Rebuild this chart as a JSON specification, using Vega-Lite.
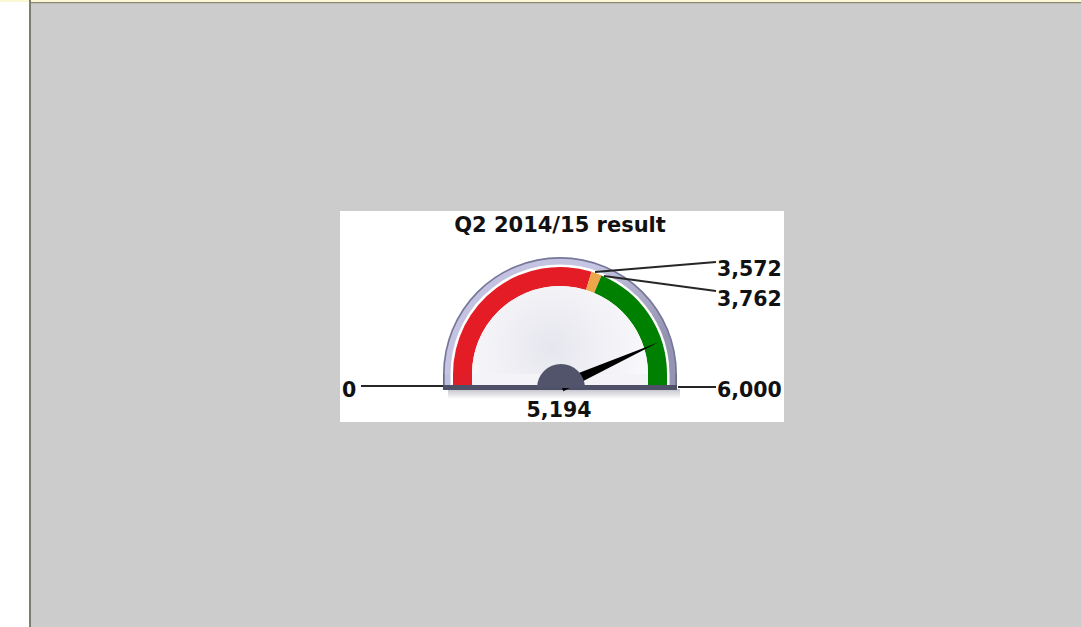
{
  "$schema": "https://vega.github.io/schema/vega-lite/v6.json",
  "width": 1081,
  "height": 627,
  "padding": 0,
  "autosize": {"type": "none"},
  "background": "#cccccc",
  "config": {"view": {"stroke": null}, "axis": {"disable": true}},
  "layer": [
    {
      "data": {"values": [{"part": "left strip"}]},
      "mark": {"type": "rect", "color": "#ffffff"},
      "encoding": {
        "x": {"datum": -560, "type": "quantitative", "scale": {"domain": [-560, 521], "nice": false, "zero": false}, "axis": null},
        "x2": {"datum": -531},
        "y": {"datum": 374, "type": "quantitative", "scale": {"domain": [-253, 374], "nice": false, "zero": false}, "axis": null},
        "y2": {"datum": -253}
      }
    },
    {
      "data": {"values": [{"part": "top strip"}]},
      "mark": {"type": "rect", "color": "#fbf8d6"},
      "encoding": {
        "x": {"datum": -560, "type": "quantitative"}, "x2": {"datum": 521},
        "y": {"datum": 374, "type": "quantitative"}, "y2": {"datum": 372}
      }
    },
    {
      "data": {"values": [{"part": "top line"}]},
      "mark": {"type": "rect", "color": "#8a8a72"},
      "encoding": {
        "x": {"datum": -531, "type": "quantitative"}, "x2": {"datum": 521},
        "y": {"datum": 372, "type": "quantitative"}, "y2": {"datum": 370.8}
      }
    },
    {
      "data": {"values": [{"part": "left line"}]},
      "mark": {"type": "rect", "color": "#7e7e6e"},
      "encoding": {
        "x": {"datum": -531, "type": "quantitative"}, "x2": {"datum": -529},
        "y": {"datum": 374, "type": "quantitative"}, "y2": {"datum": -253}
      }
    },
    {
      "data": {"values": [{"part": "panel"}]},
      "mark": {"type": "rect", "color": "#ffffff"},
      "encoding": {
        "x": {"datum": -220, "type": "quantitative"}, "x2": {"datum": 224},
        "y": {"datum": 163, "type": "quantitative"}, "y2": {"datum": -48}
      }
    },
    {
      "data": {"values": [{"part": "shadow"}]},
      "mark": {"type": "rect", "color": {"gradient": "linear", "x1": 0, "y1": 0, "x2": 0, "y2": 1, "stops": [{"offset": 0, "color": "#c2c2ca"}, {"offset": 1, "color": "#ffffff"}]}},
      "encoding": {
        "x": {"datum": -112, "type": "quantitative"}, "x2": {"datum": 120},
        "y": {"datum": -15, "type": "quantitative"}, "y2": {"datum": -25}
      }
    },
    {
      "data": {"values": [{"part": "rim edge"}]},
      "mark": {"type": "arc", "outerRadius": 117, "innerRadius": 0, "theta": -1.5708, "theta2": 1.5708, "color": "#76769a"},
      "encoding": {"x": {"datum": 0, "type": "quantitative"}, "y": {"datum": 0, "type": "quantitative"}}
    },
    {
      "data": {"values": [{"part": "rim edge ext"}]},
      "mark": {"type": "rect", "color": "#6c6c88"},
      "encoding": {
        "x": {"datum": -117, "type": "quantitative"}, "x2": {"datum": 117},
        "y": {"datum": 0, "type": "quantitative"}, "y2": {"datum": -13}
      }
    },
    {
      "data": {"values": [{"part": "rim"}]},
      "mark": {"type": "arc", "outerRadius": 115.3, "innerRadius": 0, "theta": -1.5708, "theta2": 1.5708,
        "color": {"gradient": "linear", "x1": 0, "y1": 0, "x2": 1, "y2": 0.6, "stops": [{"offset": 0, "color": "#c0c0e0"}, {"offset": 0.5, "color": "#c6c6e2"}, {"offset": 1, "color": "#9494b2"}]}},
      "encoding": {"x": {"datum": 0, "type": "quantitative"}, "y": {"datum": 0, "type": "quantitative"}}
    },
    {
      "data": {"values": [{"part": "rim ext"}]},
      "mark": {"type": "rect", "color": {"gradient": "linear", "x1": 0, "y1": 0, "x2": 1, "y2": 0, "stops": [{"offset": 0, "color": "#c0c0e0"}, {"offset": 1, "color": "#9494b2"}]}},
      "encoding": {
        "x": {"datum": -115.3, "type": "quantitative"}, "x2": {"datum": 115.3},
        "y": {"datum": 0, "type": "quantitative"}, "y2": {"datum": -13}
      }
    },
    {
      "data": {"values": [{"part": "inner white"}]},
      "mark": {"type": "arc", "outerRadius": 109.5, "innerRadius": 0, "theta": -1.5708, "theta2": 1.5708, "color": "#ffffff"},
      "encoding": {"x": {"datum": 0, "type": "quantitative"}, "y": {"datum": 0, "type": "quantitative"}}
    },
    {
      "data": {"values": [{"part": "inner white ext"}]},
      "mark": {"type": "rect", "color": "#ffffff"},
      "encoding": {
        "x": {"datum": -109.5, "type": "quantitative"}, "x2": {"datum": 109.5},
        "y": {"datum": 0, "type": "quantitative"}, "y2": {"datum": -13}
      }
    },
    {
      "data": {"values": [
        {"zone": "below", "from": 0, "to": 3572},
        {"zone": "near", "from": 3572, "to": 3762},
        {"zone": "above", "from": 3762, "to": 6000}
      ]},
      "mark": {"type": "arc", "outerRadius": 107, "innerRadius": 88},
      "encoding": {
        "x": {"datum": 0, "type": "quantitative"},
        "y": {"datum": 0, "type": "quantitative"},
        "theta": {"field": "from", "type": "quantitative", "stack": null, "scale": {"domain": [0, 6000], "range": [-1.5708, 1.5708]}},
        "theta2": {"field": "to"},
        "color": {"field": "zone", "type": "nominal", "scale": {"domain": ["below", "near", "above"], "range": ["#e41c25", "#eea64a", "#008000"]}, "legend": null}
      }
    },
    {
      "data": {"values": [{"part": "red ext"}]},
      "mark": {"type": "rect", "color": "#e01e2a"},
      "encoding": {
        "x": {"datum": -107, "type": "quantitative"}, "x2": {"datum": -88},
        "y": {"datum": 0.5, "type": "quantitative"}, "y2": {"datum": -13}
      }
    },
    {
      "data": {"values": [{"part": "green ext"}]},
      "mark": {"type": "rect", "color": "#008000"},
      "encoding": {
        "x": {"datum": 88, "type": "quantitative"}, "x2": {"datum": 107},
        "y": {"datum": 0.5, "type": "quantitative"}, "y2": {"datum": -13}
      }
    },
    {
      "data": {"values": [{"part": "face"}]},
      "mark": {"type": "arc", "outerRadius": 88, "innerRadius": 0, "theta": -1.5708, "theta2": 1.5708,
        "color": {"gradient": "radial", "x1": 0.45, "y1": 0.6, "x2": 0.45, "y2": 0.6, "r1": 0, "r2": 0.6, "stops": [{"offset": 0, "color": "#e6e6ee"}, {"offset": 1, "color": "#fbfbfd"}]}},
      "encoding": {"x": {"datum": 0, "type": "quantitative"}, "y": {"datum": 0, "type": "quantitative"}}
    },
    {
      "data": {"values": [{"part": "face ext"}]},
      "mark": {"type": "rect", "color": "#f4f4f8"},
      "encoding": {
        "x": {"datum": -88, "type": "quantitative"}, "x2": {"datum": 88},
        "y": {"datum": 0, "type": "quantitative"}, "y2": {"datum": -13}
      }
    },
    {
      "data": {"values": [{"part": "base bar"}]},
      "mark": {"type": "rect", "color": "#4e5068"},
      "encoding": {
        "x": {"datum": -117, "type": "quantitative"}, "x2": {"datum": 117},
        "y": {"datum": -11, "type": "quantitative"}, "y2": {"datum": -16}
      }
    },
    {
      "data": {"values": [{"value": 5194}]},
      "mark": {"type": "point", "shape": "M -0.055 0 L 0 -1 L 0.055 0 Z", "filled": true, "color": "#000000", "opacity": 1, "size": 45796, "strokeWidth": 0},
      "encoding": {
        "x": {"datum": 1, "type": "quantitative"},
        "y": {"datum": -12, "type": "quantitative"},
        "angle": {"field": "value", "type": "quantitative", "scale": {"domain": [0, 6000], "range": [-90, 90]}, "legend": null}
      }
    },
    {
      "data": {"values": [{"part": "hub"}]},
      "mark": {"type": "arc", "outerRadius": 24, "innerRadius": 0, "theta": -1.5708, "theta2": 1.5708, "color": "#52546c"},
      "encoding": {"x": {"datum": 1, "type": "quantitative"}, "y": {"datum": -14, "type": "quantitative"}}
    },
    {
      "data": {"values": [{"part": "leader 0"}]},
      "mark": {"type": "rule", "color": "#262626", "strokeWidth": 1.8},
      "encoding": {"x": {"datum": -199, "type": "quantitative"}, "x2": {"datum": -117}, "y": {"datum": -12, "type": "quantitative"}, "y2": {"datum": -12}}
    },
    {
      "data": {"values": [{"part": "leader 6000"}]},
      "mark": {"type": "rule", "color": "#262626", "strokeWidth": 1.8},
      "encoding": {"x": {"datum": 118, "type": "quantitative"}, "x2": {"datum": 156}, "y": {"datum": -13, "type": "quantitative"}, "y2": {"datum": -13}}
    },
    {
      "data": {"values": [{"part": "leader 3572"}]},
      "mark": {"type": "rule", "color": "#262626", "strokeWidth": 1.8},
      "encoding": {"x": {"datum": 35, "type": "quantitative"}, "x2": {"datum": 156}, "y": {"datum": 102, "type": "quantitative"}, "y2": {"datum": 112}}
    },
    {
      "data": {"values": [{"part": "leader 3762"}]},
      "mark": {"type": "rule", "color": "#262626", "strokeWidth": 1.8},
      "encoding": {"x": {"datum": 44, "type": "quantitative"}, "x2": {"datum": 156}, "y": {"datum": 98, "type": "quantitative"}, "y2": {"datum": 83}}
    },
    {
      "data": {"values": [{"title": "Q2 2014/15 result"}]},
      "mark": {"type": "text", "font": "DejaVu Sans", "fontWeight": "bold", "fontSize": 21, "color": "#111111", "align": "center", "baseline": "alphabetic"},
      "encoding": {"x": {"datum": 0, "type": "quantitative"}, "y": {"datum": 142, "type": "quantitative"}, "text": {"field": "title"}}
    },
    {
      "data": {"values": [{"value": 0}]},
      "mark": {"type": "text", "font": "DejaVu Sans", "fontWeight": "bold", "fontSize": 20.5, "color": "#111111", "align": "left", "baseline": "alphabetic"},
      "encoding": {"x": {"datum": -218, "type": "quantitative"}, "y": {"datum": -23, "type": "quantitative"}, "text": {"field": "value", "format": ","}}
    },
    {
      "data": {"values": [{"value": 6000}]},
      "mark": {"type": "text", "font": "DejaVu Sans", "fontWeight": "bold", "fontSize": 20.5, "color": "#111111", "align": "left", "baseline": "alphabetic"},
      "encoding": {"x": {"datum": 157, "type": "quantitative"}, "y": {"datum": -23, "type": "quantitative"}, "text": {"field": "value", "format": ","}}
    },
    {
      "data": {"values": [{"value": 3572}]},
      "mark": {"type": "text", "font": "DejaVu Sans", "fontWeight": "bold", "fontSize": 20.5, "color": "#111111", "align": "left", "baseline": "alphabetic"},
      "encoding": {"x": {"datum": 157, "type": "quantitative"}, "y": {"datum": 98, "type": "quantitative"}, "text": {"field": "value", "format": ","}}
    },
    {
      "data": {"values": [{"value": 3762}]},
      "mark": {"type": "text", "font": "DejaVu Sans", "fontWeight": "bold", "fontSize": 20.5, "color": "#111111", "align": "left", "baseline": "alphabetic"},
      "encoding": {"x": {"datum": 157, "type": "quantitative"}, "y": {"datum": 68, "type": "quantitative"}, "text": {"field": "value", "format": ","}}
    },
    {
      "data": {"values": [{"value": 5194}]},
      "mark": {"type": "text", "font": "DejaVu Sans", "fontWeight": "bold", "fontSize": 20.5, "color": "#111111", "align": "center", "baseline": "alphabetic"},
      "encoding": {"x": {"datum": -1, "type": "quantitative"}, "y": {"datum": -43, "type": "quantitative"}, "text": {"field": "value", "format": ","}}
    }
  ]
}
